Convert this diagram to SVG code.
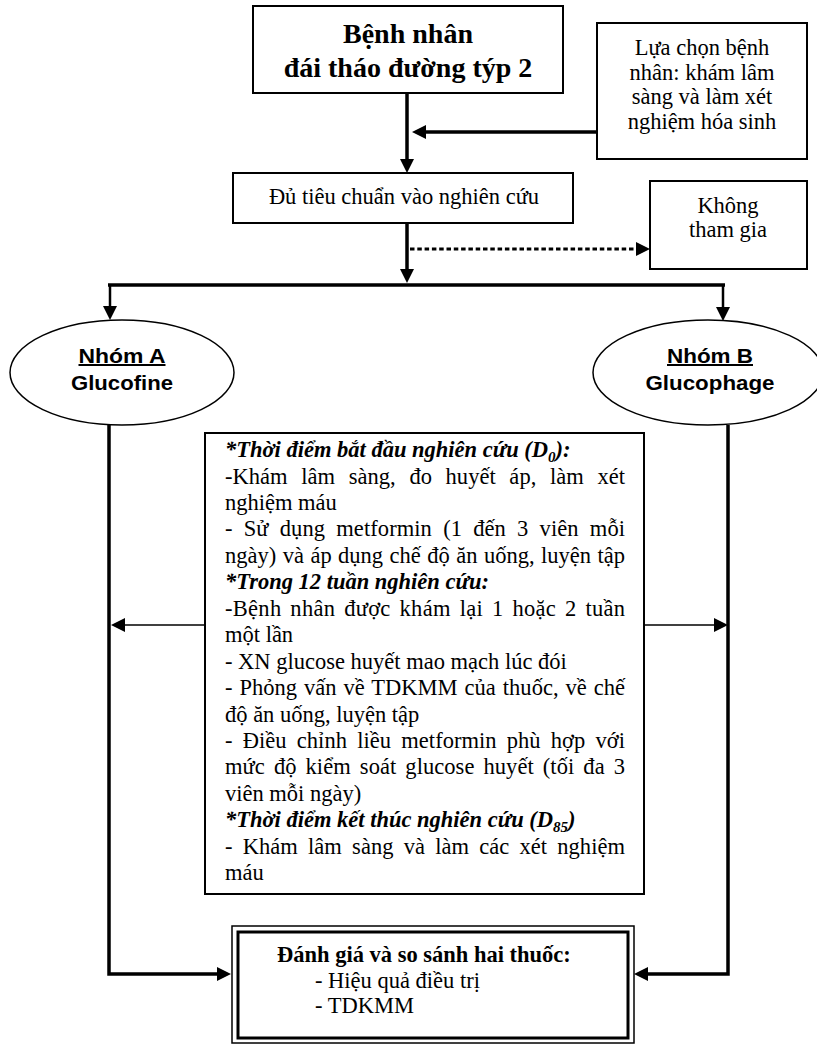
<svg xmlns="http://www.w3.org/2000/svg" width="817" height="1044" viewBox="0 0 817 1044">
<style>
.box{fill:#fff;stroke:#000;stroke-width:2}
.t{font-family:"Liberation Serif","Times New Roman",serif;font-size:22.5px;fill:#000}
.tb{font-family:"Liberation Serif","Times New Roman",serif;font-size:28px;font-weight:bold;fill:#000}
.bi{font-weight:bold;font-style:italic}
.s{font-family:"Liberation Sans",Arial,sans-serif;font-size:20px;font-weight:bold;fill:#000}
.thick{fill:none;stroke:#000;stroke-width:3.5}
.mid{fill:none;stroke:#000;stroke-width:2.5}
.thin{fill:none;stroke:#000;stroke-width:1.5}
</style>
<defs>
<marker id="ah" markerUnits="userSpaceOnUse" viewBox="0 0 14 14" markerWidth="14" markerHeight="14" refX="4" refY="7" orient="auto">
<path d="M0,0 L14,7 L0,14 z" fill="#000"/>
</marker>
</defs>

<g id="connectors">
<path class="thick" d="M407,93 V163" marker-end="url(#ah)"/>
<path class="thick" d="M597,132 H422" marker-end="url(#ah)"/>
<path class="thick" d="M407,223 V273" marker-end="url(#ah)"/>
<path fill="none" stroke="#000" stroke-width="3" stroke-dasharray="4.5 2.8" d="M410,249 H640" marker-end="url(#ah)"/>
<path class="thick" d="M108,285 H725"/>
<path class="mid" d="M110,285 V310" marker-end="url(#ah)"/>
<path class="mid" d="M723,285 V311" marker-end="url(#ah)"/>
<path class="thick" d="M109,425 V974 H221" marker-end="url(#ah)"/>
<path class="thick" d="M728,425 V974 H644" marker-end="url(#ah)"/>
<path class="thin" d="M205,625 H121" marker-end="url(#ah)"/>
<path class="thin" d="M644,625 H718" marker-end="url(#ah)"/>
</g>

<g id="patient">
<rect class="box" x="253" y="6" width="310" height="87"/>
<text class="tb" x="408" y="43" text-anchor="middle">Bệnh nhân</text>
<text class="tb" x="408" y="77" text-anchor="middle">đái tháo đường týp 2</text>
</g>

<g id="selection">
<rect class="box" x="597" y="23" width="210" height="136"/>
<text class="t" x="702" y="55" text-anchor="middle">Lựa chọn bệnh</text>
<text class="t" x="702" y="79.5" text-anchor="middle">nhân: khám lâm</text>
<text class="t" x="702" y="104" text-anchor="middle">sàng và làm xét</text>
<text class="t" x="702" y="128.5" text-anchor="middle">nghiệm hóa sinh</text>
</g>

<g id="eligible">
<rect class="box" x="233" y="173" width="340" height="50"/>
<text class="t" x="404" y="204" text-anchor="middle">Đủ tiêu chuẩn vào nghiên cứu</text>
</g>

<g id="excluded">
<rect class="box" x="650" y="181" width="157" height="88"/>
<text class="t" x="728" y="213" text-anchor="middle">Không</text>
<text class="t" x="728" y="237" text-anchor="middle">tham gia</text>
</g>

<g id="groupA">
<ellipse cx="122" cy="372.5" rx="112" ry="52.5" fill="#fff" stroke="#000" stroke-width="1.5"/>
<text class="s" x="122" y="363" text-anchor="middle" text-decoration="underline" textLength="87" lengthAdjust="spacingAndGlyphs">Nhóm A</text>
<text class="s" x="122" y="390" text-anchor="middle" textLength="102" lengthAdjust="spacingAndGlyphs">Glucofine</text>
</g>

<g id="groupB">
<ellipse cx="708" cy="372.5" rx="115" ry="52.5" fill="#fff" stroke="#000" stroke-width="1.5"/>
<text class="s" x="710" y="363" text-anchor="middle" text-decoration="underline" textLength="86" lengthAdjust="spacingAndGlyphs">Nhóm B</text>
<text class="s" x="710" y="390" text-anchor="middle" textLength="129" lengthAdjust="spacingAndGlyphs">Glucophage</text>
</g>

<g id="protocol">
<rect class="box" x="205" y="433" width="439" height="461"/>
<text class="t bi" x="225" y="457">*Thời điểm bắt đầu nghiên cứu (D<tspan font-size="15" dy="5">0</tspan><tspan dy="-5">):</tspan></text>
<text class="t" x="225" y="483.5" word-spacing="8" textLength="400" lengthAdjust="spacing">-Khám lâm sàng, đo huyết áp, làm xét</text>
<text class="t" x="225" y="510">nghiệm máu</text>
<text class="t" x="225" y="536" word-spacing="5.5" textLength="400" lengthAdjust="spacing">- Sử dụng metformin (1 đến 3 viên mỗi</text>
<text class="t" x="225" y="563" word-spacing="0.8" textLength="400" lengthAdjust="spacing">ngày) và áp dụng chế độ ăn uống, luyện tập</text>
<text class="t bi" x="225" y="589">*Trong 12 tuần nghiên cứu:</text>
<text class="t" x="225" y="616" word-spacing="3" textLength="400" lengthAdjust="spacing">-Bệnh nhân được khám lại 1 hoặc 2 tuần</text>
<text class="t" x="225" y="642">một lần</text>
<text class="t" x="225" y="669">- XN glucose huyết mao mạch lúc đói</text>
<text class="t" x="225" y="695" word-spacing="1.3" textLength="400" lengthAdjust="spacing">- Phỏng vấn về TDKMM của thuốc, về chế</text>
<text class="t" x="225" y="721.5">độ ăn uống, luyện tập</text>
<text class="t" x="225" y="748" word-spacing="4.5" textLength="400" lengthAdjust="spacing">- Điều chỉnh liều metformin phù hợp với</text>
<text class="t" x="225" y="774" word-spacing="3.4" textLength="400" lengthAdjust="spacing">mức độ kiểm soát glucose huyết (tối đa 3</text>
<text class="t" x="225" y="801">viên mỗi ngày)</text>
<text class="t bi" x="225" y="827">*Thời điểm kết thúc nghiên cứu (D<tspan font-size="15" dy="5">85</tspan><tspan dy="-5">)</tspan></text>
<text class="t" x="225" y="854" word-spacing="4.5" textLength="400" lengthAdjust="spacing">- Khám lâm sàng và làm các xét nghiệm</text>
<text class="t" x="225" y="880">máu</text>
</g>

<g id="evaluation">
<rect x="232" y="926" width="402" height="117" fill="#fff" stroke="#000" stroke-width="1.5"/>
<rect x="238" y="932" width="390" height="106" fill="none" stroke="#000" stroke-width="3"/>
<text class="t" x="277" y="962" font-weight="bold">Đánh giá và so sánh hai thuốc:</text>
<text class="t" x="315" y="988">- Hiệu quả điều trị</text>
<text class="t" x="315" y="1013">- TDKMM</text>
</g>
</svg>
